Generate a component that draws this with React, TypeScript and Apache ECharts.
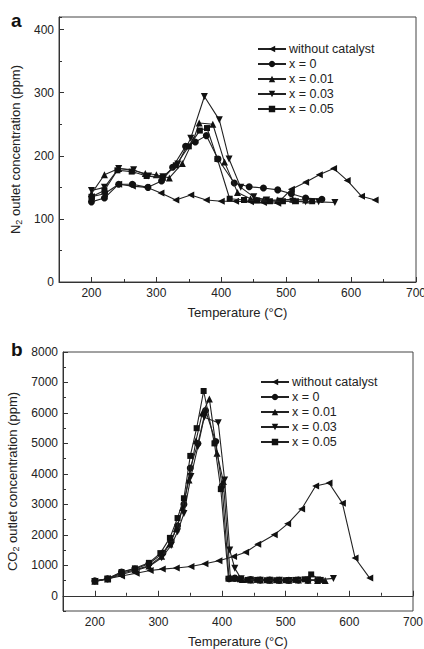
import React, { useEffect, useRef } from "react";
import * as echarts from "echarts";

// ---------- data ----------
const seriesNames = ["without catalyst", "x = 0", "x = 0.01", "x = 0.03", "x = 0.05"];

// N2 (panel a)
const n2TempWithout = [200, 220, 242, 263, 285, 307, 330, 353, 377, 400, 422, 445, 465, 487, 508, 530, 551, 573, 594, 616, 637];
const n2Without = [135, 140, 155, 152, 150, 141, 130, 138, 130, 128, 128, 127, 126, 125, 147, 158, 170, 180, 161, 136, 130];
const n2TempX0 = [200, 220, 242, 263, 287, 308, 325, 345, 360, 377, 395, 420, 443, 465, 487, 508, 530, 555];
const n2X0 = [127, 133, 155, 155, 150, 160, 182, 215, 222, 232, 195, 157, 151, 149, 146, 140, 133, 131];
const n2TempX001 = [200, 220, 242, 263, 283, 300, 320, 340, 357, 366, 387, 405, 425, 445, 465, 487, 510, 530];
const n2X001 = [140, 170, 180, 177, 172, 170, 165, 188, 225, 252, 250, 190, 142, 132, 130, 130, 131, 130];
const n2TempX003 = [200, 220, 242, 265, 288, 310, 333, 353, 374, 397, 412, 430, 450, 470, 490, 510, 530, 550, 575];
const n2X003 = [145, 150, 180, 178, 168, 167, 187, 228, 294, 257, 195, 150, 135, 130, 128, 128, 127, 127, 126];
const n2TempX005 = [200, 220, 240, 262, 285, 310, 330, 350, 367, 378, 394, 413, 435, 455, 475, 495, 515, 540];
const n2X005 = [135, 145, 177, 175, 168, 165, 185, 215, 240, 244, 195, 132, 130, 129, 128, 128, 128, 128];

// CO2 (panel b)
const co2TempWithout = [200, 220, 242, 265, 287, 306, 328, 351, 373, 395, 418, 437, 456, 482, 503, 525, 547, 568, 589, 609, 632];
const co2Without = [480, 560, 650, 740, 830, 875, 910, 960, 1050, 1150, 1290, 1430, 1690, 2000, 2360, 2850, 3600, 3700, 3040, 1240, 580];
const co2TempX0 = [200, 220, 242, 263, 285, 307, 320, 330, 340, 350, 362, 374, 390, 400, 411, 420, 430, 445, 460, 475, 490, 505, 520, 535, 550];
const co2X0 = [490, 560, 780, 880, 1050, 1400, 1800, 2300, 3000, 4190, 5000, 6080, 5060, 3600, 560, 580, 540, 530, 520, 520, 510, 510, 520, 510, 510];
const co2TempX001 = [200, 220, 242, 263, 285, 305, 318, 328, 338, 348, 359, 369, 380, 392, 402, 413, 422, 432, 445, 460, 475, 490, 505, 520, 535, 550, 562];
const co2X001 = [480, 550, 740, 850, 980, 1300, 1700, 2200, 2900, 3800, 5090, 6000, 6460, 4680, 3750, 600, 580, 530, 520, 520, 510, 510, 510, 520, 510, 500, 500];
const co2TempX003 = [200, 220, 242, 263, 285, 305, 320, 330, 340, 351, 362, 372, 394, 404, 412, 420, 430, 445, 460, 475, 490, 505, 520, 535, 550, 575];
const co2X003 = [470, 540, 700, 820, 960, 1250, 1650, 2100, 2700, 3910, 4900, 5860, 5680, 3800, 1500, 900, 560, 520, 510, 510, 510, 500, 510, 520, 520, 570];
const co2TempX005 = [200, 220, 242, 263, 285, 303, 318, 330, 340, 350, 360, 371, 388, 398, 410, 418, 428, 440, 455, 470, 485, 500, 515, 530, 540, 555];
const co2X005 = [480, 560, 780, 900, 1080, 1400, 1900, 2550, 3200, 4590, 5500, 6720, 5000, 3500, 560, 560, 540, 520, 520, 510, 510, 510, 520, 540, 700, 520];

// ticks
const xTicks = [200, 300, 400, 500, 600, 700];
const n2Ticks = [0, 100, 200, 300, 400];
const co2Ticks = [0, 1000, 2000, 3000, 4000, 5000, 6000, 7000, 8000];

const symbols = [
  "path://M0,5 L10,0 L10,10 Z",
  "circle",
  "path://M5,0 L10,9 L0,9 Z",
  "path://M0,0 L10,0 L5,9 Z",
  "rect",
];
const symbolSizes = [7, 7, 7, 7, 6];

const zip = (xs: number[], ys: number[]) => xs.map((x, i) => [x, ys[i]]);

const FONT = "Liberation Sans, Arial, sans-serif";

export default function App() {
  const ref = useRef<HTMLDivElement>(null);
  useEffect(() => {
    const chart = echarts.init(ref.current!, null, { renderer: "svg" });

    const n2Data = [
      zip(n2TempWithout, n2Without),
      zip(n2TempX0, n2X0),
      zip(n2TempX001, n2X001),
      zip(n2TempX003, n2X003),
      zip(n2TempX005, n2X005),
    ];
    const co2Data = [
      zip(co2TempWithout, co2Without),
      zip(co2TempX0, co2X0),
      zip(co2TempX001, co2X001),
      zip(co2TempX003, co2X003),
      zip(co2TempX005, co2X005),
    ];

    const mkSeries = (data: number[][][], axis: number) =>
      data.map((d, i) => ({
        type: "line",
        name: seriesNames[i],
        xAxisIndex: axis,
        yAxisIndex: axis,
        data: d,
        symbol: symbols[i],
        symbolSize: symbolSizes[i],
        showAllSymbol: true,
        lineStyle: { color: "#222", width: 1.1 },
        itemStyle: { color: "#111", borderWidth: 0 },
        z: 3 + i,
      }));

    const labelStyle = { color: "#222", fontFamily: FONT, fontSize: 12 };

    const mainX = (grid: number) => ({
      type: "value",
      gridIndex: grid,
      min: 150,
      max: 700,
      position: "bottom",
      axisLine: { show: true, lineStyle: { color: "#333", width: 1 } },
      axisTick: { show: true, inside: true, length: 5, customValues: xTicks, lineStyle: { color: "#333" } },
      axisLabel: { ...labelStyle, margin: 5, customValues: xTicks, formatter: (v: number) => String(v) },
      splitLine: { show: false },
      name: "Temperature (°C)",
      nameLocation: "middle",
      nameGap: 24,
      nameTextStyle: { color: "#222", fontFamily: FONT, fontSize: 13, verticalAlign: "top" },
    });
    const minorX = (grid: number) => ({
      type: "value",
      gridIndex: grid,
      min: 150,
      max: 700,
      interval: 50,
      position: "bottom",
      axisLine: { show: false },
      axisTick: { show: true, inside: true, length: 3, lineStyle: { color: "#333" } },
      axisLabel: { show: false },
      splitLine: { show: false },
    });
    const mainY = (grid: number, min: number, max: number, ticks: number[], gas: string, gap: number) => ({
      type: "value",
      gridIndex: grid,
      min,
      max,
      position: "left",
      axisLine: { show: true, lineStyle: { color: "#333", width: 1 } },
      axisTick: { show: true, inside: true, length: 5, customValues: ticks, lineStyle: { color: "#333" } },
      axisLabel: { ...labelStyle, margin: 5, customValues: ticks, formatter: (v: number) => String(v) },
      splitLine: { show: false },
      name: `{n|${gas}}{s|2}{n| outlet concentration (ppm)}`,
      nameLocation: "middle",
      nameRotate: 90,
      nameGap: gap,
      nameTextStyle: {
        color: "#222",
        fontFamily: FONT,
        fontSize: 13,
        rich: {
          n: { fontFamily: FONT, fontSize: 13, color: "#222" },
          s: { fontFamily: FONT, fontSize: 9, color: "#222", padding: [7, 0, 0, 0] },
        },
      },
    });
    const minorY = (grid: number, min: number, max: number, interval: number) => ({
      type: "value",
      gridIndex: grid,
      min,
      max,
      interval,
      position: "left",
      axisLine: { show: false },
      axisTick: { show: true, inside: true, length: 3, lineStyle: { color: "#333" } },
      axisLabel: { show: false },
      splitLine: { show: false },
    });

    const legendCommon = {
      orient: "vertical",
      itemWidth: 28,
      itemHeight: 8,
      itemGap: 0,
      padding: 0,
      data: seriesNames,
      textStyle: { color: "#222", fontFamily: FONT, fontSize: 12.5, lineHeight: 15, padding: [0, 0, 0, -2] },
      selectedMode: false,
    };

    chart.setOption({
      animation: false,
      backgroundColor: "#fff",
      grid: [
        { left: 59, top: 17, width: 357, height: 265, show: true, borderColor: "#444", borderWidth: 1, containLabel: false, outerBoundsMode: "none" },
        { left: 63, top: 352, width: 350, height: 259, show: true, borderColor: "#444", borderWidth: 1, containLabel: false, outerBoundsMode: "none" },
      ],
      xAxis: [mainX(0), minorX(0), mainX(1), minorX(1)],
      yAxis: [
        mainY(0, 0, 420, n2Ticks, "N", 30),
        minorY(0, 0, 420, 50),
        mainY(1, -500, 8000, co2Ticks, "CO", 34),
        minorY(1, -500, 8000, 500),
      ],
      legend: [
        { ...legendCommon, left: 257, top: 41.5 },
        { ...legendCommon, left: 260, top: 374.5 },
      ],
      graphic: [
        { type: "text", left: 11, top: 11, style: { text: "a", fontFamily: FONT, fontSize: 19, fontWeight: "bold", fill: "#111" } },
        { type: "text", left: 11, top: 340, style: { text: "b", fontFamily: FONT, fontSize: 19, fontWeight: "bold", fill: "#111" } },
      ],
      series: [...mkSeries(n2Data, 0), ...mkSeries(co2Data, 2)],
    });

    return () => chart.dispose();
  }, []);

  return (
    <div
      ref={ref}
      style={{ position: "fixed", left: 0, top: 0, width: 424, height: 649, background: "#fff" }}
    />
  );
}
